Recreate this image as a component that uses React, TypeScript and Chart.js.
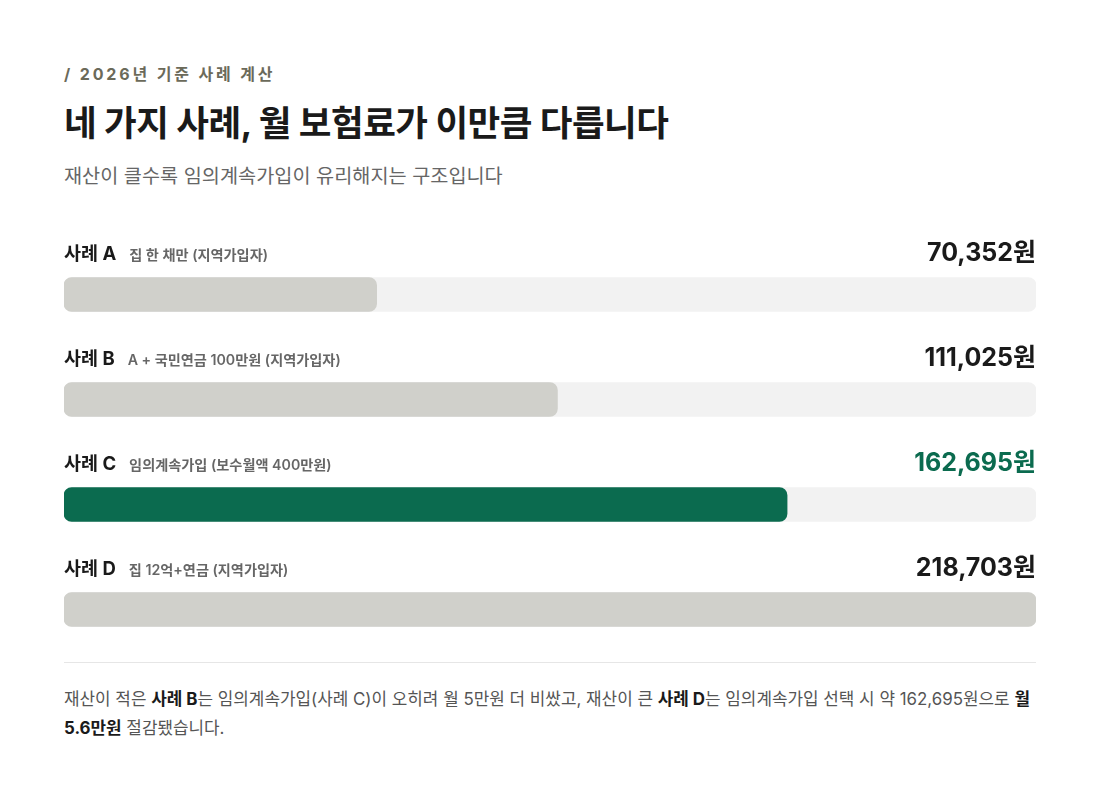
import React, { useEffect, useRef } from "react";
import { Chart, registerables } from "chart.js";

Chart.register(...registerables);

const categories = ["사례 A", "사례 B", "사례 C", "사례 D"];
const descriptions = [
  "집 한 채만 (지역가입자)",
  "A + 국민연금 100만원 (지역가입자)",
  "임의계속가입 (보수월액 400만원)",
  "집 12억+연금 (지역가입자)",
];
const premiums = [70352, 111025, 162695, 218703];
const highlightIndex = 2;

const FONT = "Inter, 'Noto Sans CJK KR', sans-serif";
const GRAY_BAR = "#d0d0cb";
const TRACK = "#f2f2f2";
const GREEN = "#0b6b4f";
const DARK = "#1a1a1a";

const maxValue = Math.max(...premiums);

const labelPlugin = {
  id: "rowLabels",
  afterDatasetsDraw(chart: any) {
    const ctx = chart.ctx;
    const meta = chart.getDatasetMeta(0);
    const area = chart.chartArea;
    ctx.save();
    ctx.textBaseline = "middle";
    meta.data.forEach((bar: any, i: number) => {
      const y = bar.y - 40;
      ctx.textAlign = "left";
      ctx.fillStyle = DARK;
      ctx.font = `700 18.5px ${FONT}`;
      ctx.fillText(categories[i], area.left, y);
      const w = ctx.measureText(categories[i]).width;
      ctx.fillStyle = "#666666";
      ctx.font = `600 14.2px ${FONT}`;
      ctx.fillText(descriptions[i], area.left + w + 13, y + 1);
      ctx.textAlign = "right";
      ctx.fillStyle = i === highlightIndex ? GREEN : DARK;
      ctx.font = `700 25px ${FONT}`;
      ctx.fillText(premiums[i].toLocaleString("en-US") + "원", area.right, y - 1);
    });
    ctx.restore();
  },
};

function BarsChart() {
  const ref = useRef<HTMLCanvasElement | null>(null);
  useEffect(() => {
    if (!ref.current) return;
    const chart = new Chart(ref.current, {
      type: "bar",
      data: {
        labels: categories,
        datasets: [
          {
            data: premiums,
            backgroundColor: premiums.map((_, i) => (i === highlightIndex ? GREEN : GRAY_BAR)),
            borderRadius: 8,
            borderSkipped: false,
            barThickness: 34,
            grouped: false,
            order: 0,
          } as any,
          {
            data: categories.map(() => maxValue),
            backgroundColor: TRACK,
            borderRadius: 8,
            borderSkipped: false,
            barThickness: 34,
            grouped: false,
            order: 1,
          } as any,
        ],
      },
      options: {
        indexAxis: "y",
        animation: false,
        responsive: true,
        maintainAspectRatio: false,
        layout: { padding: { top: 12, left: 0, right: 0, bottom: 0 } },
        plugins: { legend: { display: false }, tooltip: { enabled: false } },
        scales: {
          x: { display: false, min: 0, max: maxValue },
          y: { display: false },
        },
      },
      plugins: [labelPlugin],
    });
    return () => chart.destroy();
  }, []);
  return (
    <div style={{ position: "absolute", left: 64, top: 230, width: 972, height: 432 }}>
      <canvas ref={ref} />
    </div>
  );
}

export default function App() {
  const b = { fontWeight: 700, color: DARK } as React.CSSProperties;
  return (
    <div
      style={{
        position: "absolute",
        left: 0,
        top: 0,
        width: 1100,
        height: 809,
        background: "#ffffff",
        fontFamily: FONT,
      }}
    >
      <div
        style={{
          position: "absolute",
          left: 64,
          top: 64,
          fontSize: 16,
          lineHeight: "20px",
          fontWeight: 700,
          letterSpacing: 2.85,
          color: "#6b6a5a",
          whiteSpace: "nowrap",
        }}
      >
        / 2026년 기준 사례 계산
      </div>
      <div
        style={{
          position: "absolute",
          left: 64,
          top: 103,
          fontSize: 35.5,
          lineHeight: "42px",
          fontWeight: 700,
          color: DARK,
          letterSpacing: -0.5,
          whiteSpace: "nowrap",
        }}
      >
        네 가지 사례, 월 보험료가 이만큼 다릅니다
      </div>
      <div
        style={{
          position: "absolute",
          left: 64,
          top: 163,
          fontSize: 19.7,
          lineHeight: "26px",
          color: "#666666",
          whiteSpace: "nowrap",
        }}
      >
        재산이 클수록 임의계속가입이 유리해지는 구조입니다
      </div>
      <BarsChart />
      <div style={{ position: "absolute", left: 64, top: 662, width: 972, height: 1, background: "#e6e6e6" }} />
      <div
        style={{
          position: "absolute",
          left: 64,
          top: 685,
          width: 972,
          fontSize: 16.9,
          lineHeight: "29px",
          color: "#555555",
          whiteSpace: "nowrap",
        }}
      >
        재산이 적은 <span style={b}>사례 B</span>는 임의계속가입(사례 C)이 오히려 월 5만원 더 비쌌고, 재산이 큰{" "}
        <span style={b}>사례 D</span>는 임의계속가입 선택 시 약 162,695원으로 <span style={b}>월</span>
        <br />
        <span style={b}>5.6만원</span> 절감됐습니다.
      </div>
    </div>
  );
}
